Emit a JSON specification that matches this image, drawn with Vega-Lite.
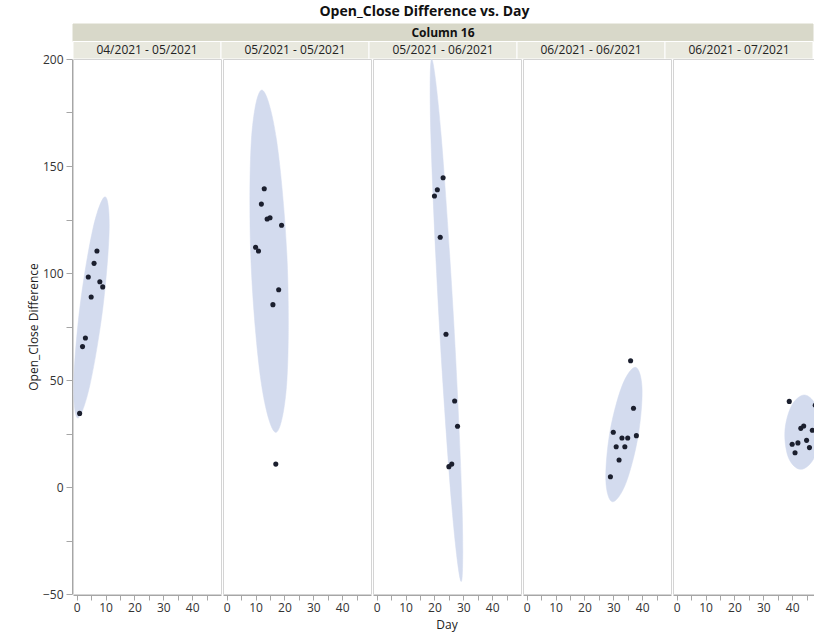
{
  "$schema": "https://vega.github.io/schema/vega-lite/v6.json",
  "padding": {"left": 27, "top": 4, "right": 0, "bottom": 4},
  "title": {"text": "Open_Close Difference vs. Day", "anchor": "middle", "fontSize": 14, "fontWeight": "bold", "font": "Open Sans", "color": "#111111", "offset": 5},
  "datasets": {
    "periods": [
      {"period": "04/2021 - 05/2021"},
      {"period": "05/2021 - 05/2021"},
      {"period": "05/2021 - 06/2021"},
      {"period": "06/2021 - 06/2021"},
      {"period": "06/2021 - 07/2021"}
    ],
    "obs": [
      {"period": "04/2021 - 05/2021", "kind": "p", "day": 1, "diff": 34.4},
      {"period": "04/2021 - 05/2021", "kind": "p", "day": 2, "diff": 65.6},
      {"period": "04/2021 - 05/2021", "kind": "p", "day": 3, "diff": 69.6},
      {"period": "04/2021 - 05/2021", "kind": "p", "day": 4, "diff": 98.1},
      {"period": "04/2021 - 05/2021", "kind": "p", "day": 5, "diff": 88.8},
      {"period": "04/2021 - 05/2021", "kind": "p", "day": 6, "diff": 104.5},
      {"period": "04/2021 - 05/2021", "kind": "p", "day": 7, "diff": 110.3},
      {"period": "04/2021 - 05/2021", "kind": "p", "day": 8, "diff": 95.9},
      {"period": "04/2021 - 05/2021", "kind": "p", "day": 9, "diff": 93.5},
      {"period": "05/2021 - 05/2021", "kind": "p", "day": 10, "diff": 112.0},
      {"period": "05/2021 - 05/2021", "kind": "p", "day": 11, "diff": 110.3},
      {"period": "05/2021 - 05/2021", "kind": "p", "day": 12, "diff": 132.2},
      {"period": "05/2021 - 05/2021", "kind": "p", "day": 13, "diff": 139.4},
      {"period": "05/2021 - 05/2021", "kind": "p", "day": 14, "diff": 125.2},
      {"period": "05/2021 - 05/2021", "kind": "p", "day": 15, "diff": 125.8},
      {"period": "05/2021 - 05/2021", "kind": "p", "day": 16, "diff": 85.2},
      {"period": "05/2021 - 05/2021", "kind": "p", "day": 17, "diff": 10.7},
      {"period": "05/2021 - 05/2021", "kind": "p", "day": 18, "diff": 92.2},
      {"period": "05/2021 - 05/2021", "kind": "p", "day": 19, "diff": 122.3},
      {"period": "05/2021 - 06/2021", "kind": "p", "day": 20, "diff": 136.0},
      {"period": "05/2021 - 06/2021", "kind": "p", "day": 21, "diff": 138.9},
      {"period": "05/2021 - 06/2021", "kind": "p", "day": 22, "diff": 116.7},
      {"period": "05/2021 - 06/2021", "kind": "p", "day": 23, "diff": 144.5},
      {"period": "05/2021 - 06/2021", "kind": "p", "day": 24, "diff": 71.4},
      {"period": "05/2021 - 06/2021", "kind": "p", "day": 25, "diff": 9.5},
      {"period": "05/2021 - 06/2021", "kind": "p", "day": 26, "diff": 10.7},
      {"period": "05/2021 - 06/2021", "kind": "p", "day": 27, "diff": 40.2},
      {"period": "05/2021 - 06/2021", "kind": "p", "day": 28, "diff": 28.4},
      {"period": "06/2021 - 06/2021", "kind": "p", "day": 29, "diff": 4.8},
      {"period": "06/2021 - 06/2021", "kind": "p", "day": 30, "diff": 25.6},
      {"period": "06/2021 - 06/2021", "kind": "p", "day": 31, "diff": 18.8},
      {"period": "06/2021 - 06/2021", "kind": "p", "day": 32, "diff": 12.6},
      {"period": "06/2021 - 06/2021", "kind": "p", "day": 33, "diff": 22.9},
      {"period": "06/2021 - 06/2021", "kind": "p", "day": 34, "diff": 18.8},
      {"period": "06/2021 - 06/2021", "kind": "p", "day": 35, "diff": 22.9},
      {"period": "06/2021 - 06/2021", "kind": "p", "day": 36, "diff": 59.0},
      {"period": "06/2021 - 06/2021", "kind": "p", "day": 37, "diff": 36.8},
      {"period": "06/2021 - 06/2021", "kind": "p", "day": 38, "diff": 24.0},
      {"period": "06/2021 - 07/2021", "kind": "p", "day": 39, "diff": 40.0},
      {"period": "06/2021 - 07/2021", "kind": "p", "day": 40, "diff": 20.0},
      {"period": "06/2021 - 07/2021", "kind": "p", "day": 41, "diff": 16.0},
      {"period": "06/2021 - 07/2021", "kind": "p", "day": 42, "diff": 20.6},
      {"period": "06/2021 - 07/2021", "kind": "p", "day": 43, "diff": 27.4},
      {"period": "06/2021 - 07/2021", "kind": "p", "day": 44, "diff": 28.5},
      {"period": "06/2021 - 07/2021", "kind": "p", "day": 45, "diff": 21.8},
      {"period": "06/2021 - 07/2021", "kind": "p", "day": 46, "diff": 18.4},
      {"period": "06/2021 - 07/2021", "kind": "p", "day": 47, "diff": 26.5},
      {"period": "06/2021 - 07/2021", "kind": "p", "day": 48, "diff": 38.2},

      {"period": "04/2021 - 05/2021", "kind": "e", "k": 0, "day": 9.86, "diff": 135.6},
      {"period": "04/2021 - 05/2021", "kind": "e", "k": 1, "day": 11.24, "diff": 120.1},
      {"period": "04/2021 - 05/2021", "kind": "e", "k": 2, "day": 9.03, "diff": 83.6},
      {"period": "04/2021 - 05/2021", "kind": "e", "k": 3, "day": 4.52, "diff": 47.4},
      {"period": "04/2021 - 05/2021", "kind": "e", "k": 4, "day": 0.34, "diff": 32.2},
      {"period": "04/2021 - 05/2021", "kind": "e", "k": 5, "day": -1.03, "diff": 48.4},
      {"period": "04/2021 - 05/2021", "kind": "e", "k": 6, "day": 1.17, "diff": 84.9},
      {"period": "04/2021 - 05/2021", "kind": "e", "k": 7, "day": 5.69, "diff": 121.1},

      {"period": "05/2021 - 05/2021", "kind": "e", "k": 0, "day": 12.14, "diff": 185.5},
      {"period": "05/2021 - 05/2021", "kind": "e", "k": 1, "day": 17.24, "diff": 162.3},
      {"period": "05/2021 - 05/2021", "kind": "e", "k": 2, "day": 20.93, "diff": 105.8},
      {"period": "05/2021 - 05/2021", "kind": "e", "k": 3, "day": 20.83, "diff": 49.4},
      {"period": "05/2021 - 05/2021", "kind": "e", "k": 4, "day": 17.03, "diff": 25.5},
      {"period": "05/2021 - 05/2021", "kind": "e", "k": 5, "day": 11.93, "diff": 48.9},
      {"period": "05/2021 - 05/2021", "kind": "e", "k": 6, "day": 8.41, "diff": 105.2},
      {"period": "05/2021 - 05/2021", "kind": "e", "k": 7, "day": 8.52, "diff": 161.7},

      {"period": "05/2021 - 06/2021", "kind": "e", "k": 0, "day": 19.03, "diff": 200.0},
      {"period": "05/2021 - 06/2021", "kind": "e", "k": 1, "day": 22.31, "diff": 164.4},
      {"period": "05/2021 - 06/2021", "kind": "e", "k": 2, "day": 26.66, "diff": 77.6},
      {"period": "05/2021 - 06/2021", "kind": "e", "k": 3, "day": 29.55, "diff": -8.3},
      {"period": "05/2021 - 06/2021", "kind": "e", "k": 4, "day": 29.28, "diff": -44.2},
      {"period": "05/2021 - 06/2021", "kind": "e", "k": 5, "day": 26.0, "diff": -8.6},
      {"period": "05/2021 - 06/2021", "kind": "e", "k": 6, "day": 21.66, "diff": 76.8},
      {"period": "05/2021 - 06/2021", "kind": "e", "k": 7, "day": 18.76, "diff": 164.1},

      {"period": "06/2021 - 06/2021", "kind": "e", "k": 0, "day": 37.72, "diff": 55.9},
      {"period": "06/2021 - 06/2021", "kind": "e", "k": 1, "day": 39.97, "diff": 45.9},
      {"period": "06/2021 - 06/2021", "kind": "e", "k": 2, "day": 38.55, "diff": 23.4},
      {"period": "06/2021 - 06/2021", "kind": "e", "k": 3, "day": 34.28, "diff": 1.5},
      {"period": "06/2021 - 06/2021", "kind": "e", "k": 4, "day": 29.66, "diff": -6.9},
      {"period": "06/2021 - 06/2021", "kind": "e", "k": 5, "day": 27.41, "diff": 3.1},
      {"period": "06/2021 - 06/2021", "kind": "e", "k": 6, "day": 28.83, "diff": 25.7},
      {"period": "06/2021 - 06/2021", "kind": "e", "k": 7, "day": 33.1, "diff": 47.5},

      {"period": "06/2021 - 07/2021", "kind": "e", "k": 0, "day": 44.33, "diff": 43.0},
      {"period": "06/2021 - 07/2021", "kind": "e", "k": 1, "day": 48.45, "diff": 37.5},
      {"period": "06/2021 - 07/2021", "kind": "e", "k": 2, "day": 49.73, "diff": 25.1},
      {"period": "06/2021 - 07/2021", "kind": "e", "k": 3, "day": 47.38, "diff": 13.0},
      {"period": "06/2021 - 07/2021", "kind": "e", "k": 4, "day": 42.84, "diff": 8.25},
      {"period": "06/2021 - 07/2021", "kind": "e", "k": 5, "day": 38.72, "diff": 13.7},
      {"period": "06/2021 - 07/2021", "kind": "e", "k": 6, "day": 37.48, "diff": 26.1},
      {"period": "06/2021 - 07/2021", "kind": "e", "k": 7, "day": 39.83, "diff": 38.1}
    ]
  },
  "spacing": 0,
  "bounds": "flush",
  "vconcat": [
    {
      "width": 740,
      "height": 35,
      "view": {"stroke": null},
      "data": {"name": "periods"},
      "layer": [
        {
          "mark": {"type": "rect", "fill": "#d8d8c9", "stroke": "#d8d8c9", "strokeWidth": 1},
          "encoding": {
            "x": {"field": "period", "type": "nominal", "scale": {"paddingInner": 0, "paddingOuter": 0}, "axis": null},
            "y": {"datum": "group", "type": "nominal", "scale": {"domain": ["group", "label"], "paddingInner": 0, "paddingOuter": 0}, "axis": null}
          }
        },
        {
          "mark": {"type": "rect", "fill": "#e9e9df", "stroke": "#ffffff", "strokeWidth": 1},
          "encoding": {
            "x": {"field": "period", "type": "nominal", "axis": null},
            "y": {"datum": "label", "type": "nominal", "axis": null}
          }
        },
        {
          "mark": {"type": "text", "fontSize": 12, "font": "Open Sans", "color": "#222222"},
          "encoding": {
            "x": {"field": "period", "type": "nominal", "axis": null},
            "y": {"datum": "label", "type": "nominal", "axis": null},
            "text": {"field": "period"}
          }
        },
        {
          "data": {"values": [{"t": "Column 16"}]},
          "mark": {"type": "text", "fontSize": 12, "font": "Open Sans", "fontWeight": "bold", "color": "#111111"},
          "encoding": {
            "y": {"datum": "group", "type": "nominal", "axis": null},
            "text": {"field": "t"}
          }
        }
      ]
    },
    {
      "data": {"name": "obs"},
      "facet": {
        "column": {
          "field": "period",
          "type": "nominal",
          "header": {"labels": false, "title": "Day", "titleOrient": "bottom", "titleFont": "Open Sans", "titleFontSize": 12, "titleFontWeight": "normal", "titleColor": "#222222", "titlePadding": -3}
        }
      },
      "spacing": 0,
      "spec": {
        "width": 148,
        "height": 535,
        "layer": [
          {
            "transform": [{"filter": "datum.kind === 'e'"}],
            "mark": {"type": "line", "interpolate": "cardinal-closed", "fill": "#d3dbee", "stroke": "#d3dbee", "strokeWidth": 0.5, "clip": true},
            "encoding": {
              "x": {
                "field": "day", "type": "quantitative",
                "scale": {"domain": [-1.3, 50], "nice": false, "zero": false},
                "axis": {"title": null, "values": [0, 5, 10, 15, 20, 25, 30, 35, 40, 45], "labelExpr": "datum.value % 10 === 0 ? datum.label : ''", "labelFlush": false, "labelOverlap": false, "tickSize": 5, "labelPadding": 2}
              },
              "y": {
                "field": "diff", "type": "quantitative",
                "scale": {"domain": [-50, 200], "nice": false, "zero": false},
                "axis": {"title": "Open_Close Difference", "values": [-50, -25, 0, 25, 50, 75, 100, 125, 150, 175, 200], "labelExpr": "datum.value % 50 === 0 ? datum.label : ''", "labelOverlap": false, "tickSize": 6, "labelPadding": 3, "titlePadding": 2}
              },
              "order": {"field": "k", "type": "quantitative"}
            }
          },
          {
            "transform": [{"filter": "datum.kind === 'p'"}],
            "mark": {"type": "circle", "size": 26, "color": "#1b1f2e", "opacity": 1},
            "encoding": {
              "x": {
                "field": "day", "type": "quantitative",
                "scale": {"domain": [-1.3, 50], "nice": false, "zero": false},
                "axis": {"title": null, "values": [0, 5, 10, 15, 20, 25, 30, 35, 40, 45], "labelExpr": "datum.value % 10 === 0 ? datum.label : ''", "labelFlush": false, "labelOverlap": false, "tickSize": 5, "labelPadding": 2}
              },
              "y": {
                "field": "diff", "type": "quantitative",
                "scale": {"domain": [-50, 200], "nice": false, "zero": false},
                "axis": {"title": "Open_Close Difference", "values": [-50, -25, 0, 25, 50, 75, 100, 125, 150, 175, 200], "labelExpr": "datum.value % 50 === 0 ? datum.label : ''", "labelOverlap": false, "tickSize": 6, "labelPadding": 3, "titlePadding": 2}
              }
            }
          }
        ]
      }
    }
  ],
  "config": {
    "font": "Open Sans",
    "view": {"stroke": "#d4d4d4"},
    "axis": {
      "labelFont": "Open Sans", "labelFontSize": 12, "labelColor": "#333333", "labelOverlap": false,
      "titleFont": "Open Sans", "titleFontSize": 12, "titleFontWeight": "normal", "titleColor": "#222222",
      "domainColor": "#a6a6a6", "tickColor": "#a6a6a6", "grid": false
    },
    "axisX": {"labelOverlap": false}
  }
}
